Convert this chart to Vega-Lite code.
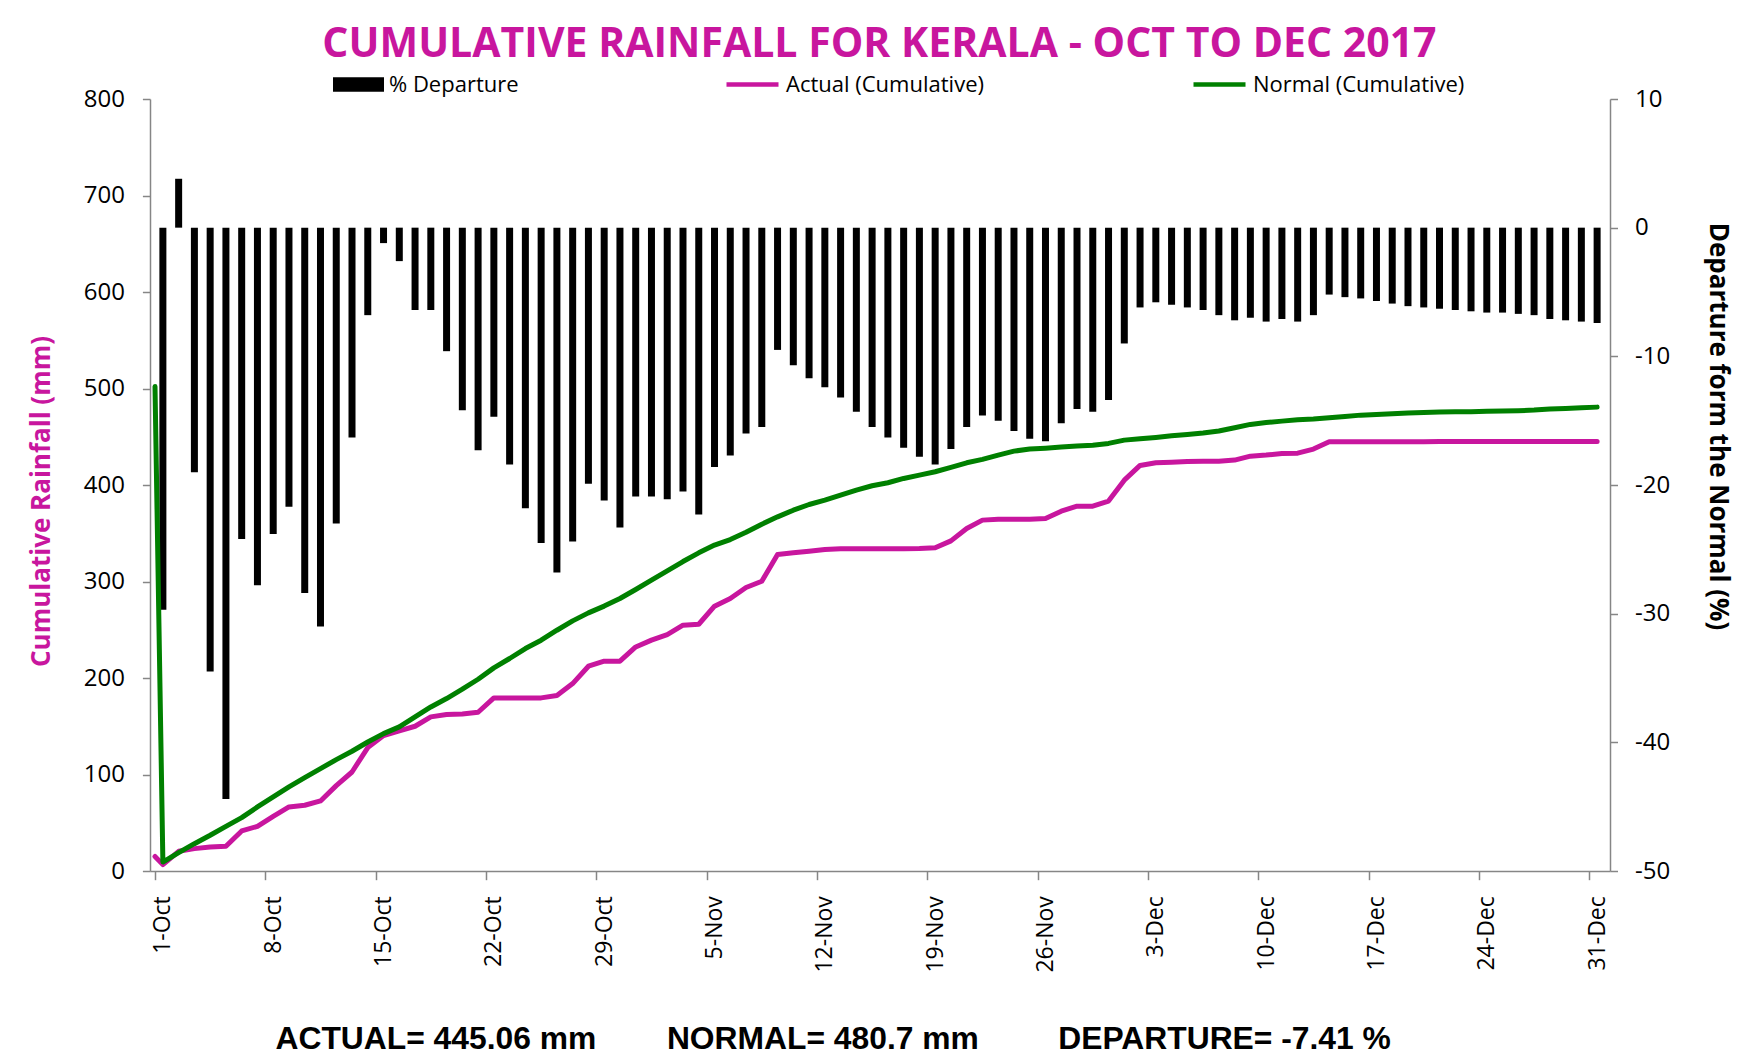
{
  "$schema": "https://vega.github.io/schema/vega-lite/v6.json",
  "width": 1460,
  "height": 772,
  "autosize": {"type": "none"},
  "padding": {"left": 150, "top": 99, "right": 136, "bottom": 184},
  "background": "white",
  "config": {"font": "Open Sans", "view": {"stroke": null}},
  "title": {"text": "CUMULATIVE RAINFALL FOR KERALA - OCT TO DEC 2017", "font": "Open Sans", "fontSize": 41, "fontWeight": "bold", "color": "#C8169E", "anchor": "middle", "frame": "bounds", "offset": -10},
  "data": {"values": [
    {"d": "2017-09-30T12:00:00", "dep": null, "act": 15, "nor": 502},
    {"d": "2017-10-01T00:00:00", "dep": -29.7, "act": 6.6, "nor": 9.3},
    {"d": "2017-10-02T00:00:00", "dep": 3.8, "act": 20.4, "nor": 19.0},
    {"d": "2017-10-03T00:00:00", "dep": -19.0, "act": 23.2, "nor": 28.3},
    {"d": "2017-10-04T00:00:00", "dep": -34.5, "act": 24.9, "nor": 37.0},
    {"d": "2017-10-05T00:00:00", "dep": -44.4, "act": 25.6, "nor": 46.3},
    {"d": "2017-10-06T00:00:00", "dep": -24.2, "act": 41.5, "nor": 55.3},
    {"d": "2017-10-07T00:00:00", "dep": -27.8, "act": 46.3, "nor": 66.4},
    {"d": "2017-10-08T00:00:00", "dep": -23.8, "act": 56.7, "nor": 76.7},
    {"d": "2017-10-09T00:00:00", "dep": -21.7, "act": 66.4, "nor": 87.1},
    {"d": "2017-10-10T00:00:00", "dep": -28.4, "act": 68.1, "nor": 96.8},
    {"d": "2017-10-11T00:00:00", "dep": -31.0, "act": 72.6, "nor": 106.1},
    {"d": "2017-10-12T00:00:00", "dep": -23.0, "act": 88.5, "nor": 115.4},
    {"d": "2017-10-13T00:00:00", "dep": -16.3, "act": 102.6, "nor": 124.1},
    {"d": "2017-10-14T00:00:00", "dep": -6.8, "act": 127.9, "nor": 133.7},
    {"d": "2017-10-15T00:00:00", "dep": -1.2, "act": 140.3, "nor": 142.4},
    {"d": "2017-10-16T00:00:00", "dep": -2.6, "act": 145.2, "nor": 149.3},
    {"d": "2017-10-17T00:00:00", "dep": -6.4, "act": 150.0, "nor": 159.7},
    {"d": "2017-10-18T00:00:00", "dep": -6.4, "act": 159.7, "nor": 170.0},
    {"d": "2017-10-19T00:00:00", "dep": -9.6, "act": 162.1, "nor": 178.7},
    {"d": "2017-10-20T00:00:00", "dep": -14.2, "act": 162.8, "nor": 188.4},
    {"d": "2017-10-21T00:00:00", "dep": -17.3, "act": 164.5, "nor": 198.7},
    {"d": "2017-10-22T00:00:00", "dep": -14.7, "act": 179.4, "nor": 210.5},
    {"d": "2017-10-23T00:00:00", "dep": -18.4, "act": 179.4, "nor": 220.2},
    {"d": "2017-10-24T00:00:00", "dep": -21.8, "act": 179.4, "nor": 230.5},
    {"d": "2017-10-25T00:00:00", "dep": -24.5, "act": 179.4, "nor": 239.2},
    {"d": "2017-10-26T00:00:00", "dep": -26.8, "act": 181.8, "nor": 249.5},
    {"d": "2017-10-27T00:00:00", "dep": -24.4, "act": 194.2, "nor": 259.2},
    {"d": "2017-10-28T00:00:00", "dep": -19.9, "act": 212.2, "nor": 267.5},
    {"d": "2017-10-29T00:00:00", "dep": -21.2, "act": 217.4, "nor": 274.5},
    {"d": "2017-10-30T00:00:00", "dep": -23.3, "act": 217.4, "nor": 282.4},
    {"d": "2017-10-31T00:00:00", "dep": -20.9, "act": 232.2, "nor": 291.7},
    {"d": "2017-11-01T00:00:00", "dep": -20.9, "act": 239.2, "nor": 301.4},
    {"d": "2017-11-02T00:00:00", "dep": -21.1, "act": 245.0, "nor": 311.0},
    {"d": "2017-11-03T00:00:00", "dep": -20.5, "act": 254.7, "nor": 320.7},
    {"d": "2017-11-04T00:00:00", "dep": -22.3, "act": 255.7, "nor": 329.7},
    {"d": "2017-11-05T00:00:00", "dep": -18.6, "act": 274.4, "nor": 337.7},
    {"d": "2017-11-06T00:00:00", "dep": -17.7, "act": 282.4, "nor": 343.5},
    {"d": "2017-11-07T00:00:00", "dep": -16.0, "act": 293.8, "nor": 351.0},
    {"d": "2017-11-08T00:00:00", "dep": -15.5, "act": 300.3, "nor": 359.4},
    {"d": "2017-11-09T00:00:00", "dep": -9.5, "act": 328.0, "nor": 367.0},
    {"d": "2017-11-10T00:00:00", "dep": -10.7, "act": 329.7, "nor": 373.9},
    {"d": "2017-11-11T00:00:00", "dep": -11.7, "act": 331.4, "nor": 379.8},
    {"d": "2017-11-12T00:00:00", "dep": -12.4, "act": 333.2, "nor": 384.3},
    {"d": "2017-11-13T00:00:00", "dep": -13.2, "act": 333.9, "nor": 389.5},
    {"d": "2017-11-14T00:00:00", "dep": -14.3, "act": 333.9, "nor": 394.7},
    {"d": "2017-11-15T00:00:00", "dep": -15.5, "act": 333.9, "nor": 399.2},
    {"d": "2017-11-16T00:00:00", "dep": -16.3, "act": 333.9, "nor": 402.3},
    {"d": "2017-11-17T00:00:00", "dep": -17.1, "act": 333.9, "nor": 406.8},
    {"d": "2017-11-18T00:00:00", "dep": -17.8, "act": 334.2, "nor": 410.2},
    {"d": "2017-11-19T00:00:00", "dep": -18.4, "act": 334.9, "nor": 413.7},
    {"d": "2017-11-20T00:00:00", "dep": -17.2, "act": 342.1, "nor": 418.2},
    {"d": "2017-11-21T00:00:00", "dep": -15.5, "act": 355.0, "nor": 423.0},
    {"d": "2017-11-22T00:00:00", "dep": -14.6, "act": 363.6, "nor": 426.5},
    {"d": "2017-11-23T00:00:00", "dep": -15.0, "act": 364.6, "nor": 431.0},
    {"d": "2017-11-24T00:00:00", "dep": -15.8, "act": 364.6, "nor": 435.1},
    {"d": "2017-11-25T00:00:00", "dep": -16.4, "act": 364.6, "nor": 437.2},
    {"d": "2017-11-26T00:00:00", "dep": -16.6, "act": 365.3, "nor": 438.2},
    {"d": "2017-11-27T00:00:00", "dep": -15.2, "act": 372.9, "nor": 439.3},
    {"d": "2017-11-28T00:00:00", "dep": -14.1, "act": 378.1, "nor": 440.3},
    {"d": "2017-11-29T00:00:00", "dep": -14.3, "act": 378.1, "nor": 441.3},
    {"d": "2017-11-30T00:00:00", "dep": -13.4, "act": 383.3, "nor": 443.1},
    {"d": "2017-12-01T00:00:00", "dep": -9.0, "act": 405.0, "nor": 446.5},
    {"d": "2017-12-02T00:00:00", "dep": -6.2, "act": 420.3, "nor": 447.9},
    {"d": "2017-12-03T00:00:00", "dep": -5.8, "act": 423.0, "nor": 449.3},
    {"d": "2017-12-04T00:00:00", "dep": -6.0, "act": 423.7, "nor": 451.0},
    {"d": "2017-12-05T00:00:00", "dep": -6.2, "act": 424.4, "nor": 452.4},
    {"d": "2017-12-06T00:00:00", "dep": -6.4, "act": 424.7, "nor": 453.8},
    {"d": "2017-12-07T00:00:00", "dep": -6.8, "act": 424.7, "nor": 455.9},
    {"d": "2017-12-08T00:00:00", "dep": -7.2, "act": 425.8, "nor": 459.3},
    {"d": "2017-12-09T00:00:00", "dep": -7.0, "act": 429.9, "nor": 462.8},
    {"d": "2017-12-10T00:00:00", "dep": -7.3, "act": 431.0, "nor": 464.8},
    {"d": "2017-12-11T00:00:00", "dep": -7.1, "act": 432.7, "nor": 466.2},
    {"d": "2017-12-12T00:00:00", "dep": -7.3, "act": 433.0, "nor": 467.6},
    {"d": "2017-12-13T00:00:00", "dep": -6.8, "act": 437.2, "nor": 468.3},
    {"d": "2017-12-14T00:00:00", "dep": -5.2, "act": 444.8, "nor": 469.7},
    {"d": "2017-12-15T00:00:00", "dep": -5.4, "act": 444.9, "nor": 471.0},
    {"d": "2017-12-16T00:00:00", "dep": -5.5, "act": 444.9, "nor": 472.4},
    {"d": "2017-12-17T00:00:00", "dep": -5.7, "act": 444.9, "nor": 473.1},
    {"d": "2017-12-18T00:00:00", "dep": -5.9, "act": 444.9, "nor": 473.8},
    {"d": "2017-12-19T00:00:00", "dep": -6.1, "act": 444.9, "nor": 474.5},
    {"d": "2017-12-20T00:00:00", "dep": -6.2, "act": 444.9, "nor": 475.2},
    {"d": "2017-12-21T00:00:00", "dep": -6.3, "act": 445.0, "nor": 475.6},
    {"d": "2017-12-22T00:00:00", "dep": -6.4, "act": 445.0, "nor": 475.9},
    {"d": "2017-12-23T00:00:00", "dep": -6.5, "act": 445.0, "nor": 475.9},
    {"d": "2017-12-24T00:00:00", "dep": -6.6, "act": 445.0, "nor": 476.3},
    {"d": "2017-12-25T00:00:00", "dep": -6.6, "act": 445.0, "nor": 476.6},
    {"d": "2017-12-26T00:00:00", "dep": -6.7, "act": 445.0, "nor": 477.0},
    {"d": "2017-12-27T00:00:00", "dep": -6.8, "act": 445.0, "nor": 477.6},
    {"d": "2017-12-28T00:00:00", "dep": -7.1, "act": 445.06, "nor": 478.7},
    {"d": "2017-12-29T00:00:00", "dep": -7.2, "act": 445.06, "nor": 479.4},
    {"d": "2017-12-30T00:00:00", "dep": -7.3, "act": 445.06, "nor": 480.1},
    {"d": "2017-12-31T00:00:00", "dep": -7.41, "act": 445.06, "nor": 480.7}
  ]},
  "encoding": {
    "x": {
      "field": "d",
      "type": "temporal",
      "scale": {"domain": [{"year": 2017, "month": 9, "date": 30, "hours": 12}, {"year": 2017, "month": 12, "date": 31, "hours": 12}], "nice": false},
      "axis": {
        "values": [
          {"year": 2017, "month": 9, "date": 30, "hours": 12},
          {"year": 2017, "month": 10, "date": 7, "hours": 12},
          {"year": 2017, "month": 10, "date": 14, "hours": 12},
          {"year": 2017, "month": 10, "date": 21, "hours": 12},
          {"year": 2017, "month": 10, "date": 28, "hours": 12},
          {"year": 2017, "month": 11, "date": 4, "hours": 12},
          {"year": 2017, "month": 11, "date": 11, "hours": 12},
          {"year": 2017, "month": 11, "date": 18, "hours": 12},
          {"year": 2017, "month": 11, "date": 25, "hours": 12},
          {"year": 2017, "month": 12, "date": 2, "hours": 12},
          {"year": 2017, "month": 12, "date": 9, "hours": 12},
          {"year": 2017, "month": 12, "date": 16, "hours": 12},
          {"year": 2017, "month": 12, "date": 23, "hours": 12},
          {"year": 2017, "month": 12, "date": 30, "hours": 12}
        ],
        "labelExpr": "timeFormat(time(datum.value) + 43200000, '%-d-%b')",
        "labelAngle": -90,
        "labelAlign": "right",
        "labelBaseline": "middle",
        "labelOffset": 7.9,
        "labelFont": "Open Sans",
        "labelFontSize": 23,
        "labelColor": "black",
        "labelPadding": 16,
        "labelFlush": false,
        "labelOverlap": false,
        "labelBound": false,
        "tickSize": 8.7,
        "tickColor": "#868686",
        "tickWidth": 1.5,
        "domainColor": "#868686",
        "domainWidth": 1.5,
        "grid": false,
        "title": "ACTUAL= 445.06 mm\u00a0\u00a0\u00a0\u00a0\u00a0\u00a0\u00a0\u00a0NORMAL= 480.7 mm\u00a0\u00a0\u00a0\u00a0\u00a0\u00a0\u00a0\u00a0\u00a0DEPARTURE= -7.41 %",
        "titleFont": "Liberation Sans",
        "titleFontSize": 31.8,
        "titleFontWeight": "bold",
        "titleColor": "black",
        "titleAlign": "left",
        "titleBaseline": "alphabetic",
        "titleX": 125,
        "titleY": 177
      }
    }
  },
  "layer": [
    {
      "mark": {"type": "bar", "width": 7},
      "encoding": {
        "y": {
          "field": "dep",
          "type": "quantitative",
          "scale": {"domain": [-50, 10], "nice": false},
          "axis": {
            "orient": "right",
            "values": [-50, -40, -30, -20, -10, 0, 10],
            "labelExpr": "datum.value < 0 ? '-' + abs(datum.value) : '' + datum.value",
            "labelFont": "Open Sans",
            "labelFontSize": 24,
            "labelColor": "black",
            "labelPadding": 17,
            "tickSize": 7.5,
            "tickColor": "#868686",
            "tickWidth": 1.5,
            "domainColor": "#868686",
            "domainWidth": 1.5,
            "grid": false,
            "title": "Departure form the Normal (%)",
            "titleFont": "Open Sans",
            "titleFontSize": 26,
            "titleFontWeight": "bold",
            "titleColor": "black",
            "titlePadding": 35,
            "titleY": 327
          }
        },
        "color": {
          "datum": "% Departure",
          "scale": {"range": ["#000000"]},
          "legend": {
            "orient": "none",
            "legendX": 183,
            "legendY": -40,
            "title": null,
            "symbolType": "M-1,-0.288H1V0.288H-1Z",
            "symbolSize": 2601,
            "symbolStrokeWidth": 0,
            "labelFont": "Open Sans",
            "labelFontSize": 22,
            "labelColor": "black",
            "labelOffset": 5,
            "labelLimit": 400
          }
        }
      }
    },
    {
      "layer": [
        {
          "mark": {"type": "line", "strokeWidth": 5, "strokeJoin": "round", "strokeCap": "round"},
          "encoding": {
            "y": {
              "field": "act",
              "type": "quantitative",
              "title": "Cumulative Rainfall (mm)",
              "scale": {"domain": [0, 800], "nice": false},
              "axis": {
                "orient": "left",
                "values": [0, 100, 200, 300, 400, 500, 600, 700, 800],
                "labelFont": "Open Sans",
                "labelFontSize": 24,
                "labelColor": "black",
                "labelPadding": 18,
                "tickSize": 7.6,
                "tickColor": "#868686",
                "tickWidth": 1.5,
                "domainColor": "#868686",
                "domainWidth": 1.5,
                "grid": false,
                "titleFont": "Open Sans",
                "titleFontSize": 26,
                "titleFontWeight": "bold",
                "titleColor": "#C8169E",
                "titlePadding": 29,
                "titleY": 402
              }
            },
            "color": {
              "datum": "Actual (Cumulative)",
              "scale": {"range": ["#C8169E"]},
              "legend": {
                "orient": "none",
                "legendX": 574,
                "legendY": -43,
                "title": null,
                "symbolType": "stroke",
                "symbolSize": 2704,
                "symbolStrokeWidth": 4.5,
                "labelFont": "Open Sans",
                "labelFontSize": 22,
                "labelColor": "black",
                "labelOffset": 5,
                "labelLimit": 400
              }
            }
          }
        },
        {
          "mark": {"type": "line", "strokeWidth": 5, "strokeJoin": "round", "strokeCap": "round"},
          "encoding": {
            "y": {
              "field": "nor",
              "type": "quantitative",
              "title": "Cumulative Rainfall (mm)",
              "scale": {"domain": [0, 800], "nice": false},
              "axis": {
                "orient": "left",
                "values": [0, 100, 200, 300, 400, 500, 600, 700, 800],
                "labelFont": "Open Sans",
                "labelFontSize": 24,
                "labelColor": "black",
                "labelPadding": 18,
                "tickSize": 7.6,
                "tickColor": "#868686",
                "tickWidth": 1.5,
                "domainColor": "#868686",
                "domainWidth": 1.5,
                "grid": false,
                "titleFont": "Open Sans",
                "titleFontSize": 26,
                "titleFontWeight": "bold",
                "titleColor": "#C8169E",
                "titlePadding": 29,
                "titleY": 402
              }
            },
            "color": {
              "datum": "Normal (Cumulative)",
              "scale": {"range": ["#008000"]},
              "legend": {
                "orient": "none",
                "legendX": 1041,
                "legendY": -43,
                "title": null,
                "symbolType": "stroke",
                "symbolSize": 2704,
                "symbolStrokeWidth": 4.5,
                "labelFont": "Open Sans",
                "labelFontSize": 22,
                "labelColor": "black",
                "labelOffset": 5,
                "labelLimit": 400
              }
            }
          }
        }
      ],
      "resolve": {"scale": {"color": "independent"}}
    }
  ],
  "resolve": {"scale": {"y": "independent", "color": "independent"}}
}
